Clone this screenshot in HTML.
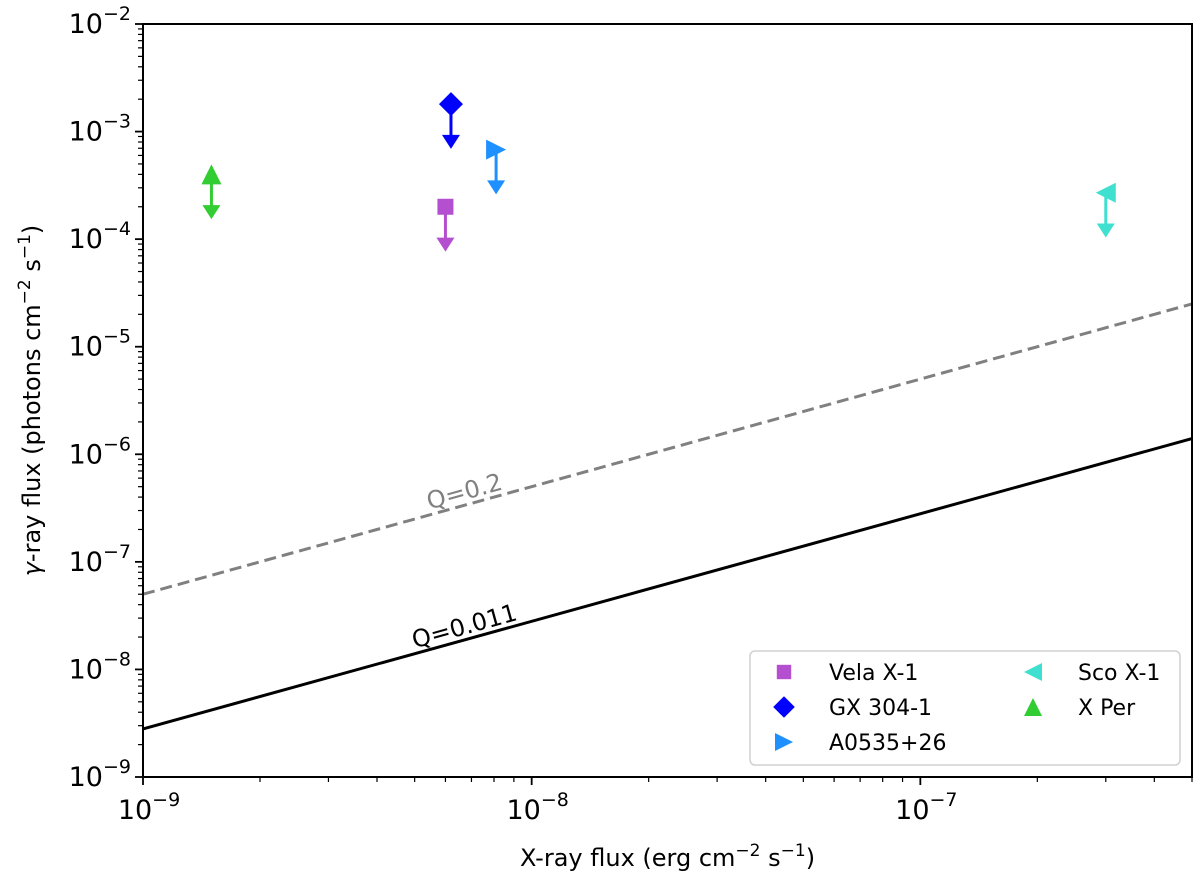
<!DOCTYPE html>
<html><head><meta charset="utf-8"><style>
html,body{margin:0;padding:0;background:#fff;}
svg{display:block;font-family:"DejaVu Sans","Liberation Sans",sans-serif;}
</style></head><body>
<svg id="chart" width="1200" height="880" viewBox="0 0 1200 880"></svg>
<script>
const names=["Vela X-1","GX 304-1","A0535+26","Sco X-1","X Per"];
const xFlux=[6.0e-9,6.2e-9,8.1e-9,3.0e-7,1.5e-9];
const gFlux=[2.0e-4,1.8e-3,6.8e-4,2.7e-4,4.0e-4];
const colors=["#b44fcf","#0000ff","#1e90ff","#40e0d0","#32cd32"];
const markers=["square","diamond","right","left","up"];
const qNames=["Q=0.2","Q=0.011"];
const qAt1e9=[5e-8,2.8e-9];
const xTicks=[-9,-8,-7];
const yTicks=[-9,-8,-7,-6,-5,-4,-3,-2];
const L=143,R=1192,T=24,B=777;
const xmin=-9,xmax=Math.log10(5e-7),ymin=-9,ymax=-2;
const X=v=>L+(Math.log10(v)-xmin)/(xmax-xmin)*(R-L);
const Y=v=>B-(Math.log10(v)-ymin)/(ymax-ymin)*(B-T);
const svg=document.getElementById('chart');
const NS="http://www.w3.org/2000/svg";
function el(t,a,p){const e=document.createElementNS(NS,t);for(const k in a)e.setAttribute(k,a[k]);(p||svg).appendChild(e);return e;}
const qStyles=[{s:"#808080",d:"12,6"},{s:"#000",d:""}];
qNames.forEach((n,i)=>{
 const x1=1e-9,x2=5e-7;
 const ln=el('line',{x1:X(x1),y1:Y(qAt1e9[i]),x2:X(x2),y2:Y(qAt1e9[i]*x2/x1),stroke:qStyles[i].s,'stroke-width':3,'stroke-dasharray':qStyles[i].d});
 
 
 const xl=6.8e-9, yv=qAt1e9[i]*xl/1e-9*1.12;
 const ang=-Math.atan((Y(1)-Y(10))/(X(10)-X(1)))*180/Math.PI;
 const t=el('text',{x:X(xl),y:Y(yv),'font-size':24,fill:qStyles[i].s,'text-anchor':'middle',transform:`rotate(${ang} ${X(xl)} ${Y(yv)})`});
 t.textContent=n;
 
 
});
function marker(type,cx,cy,s,c,parent){
 let e;
 if(type==="square")e=el('rect',{x:cx-s*0.8,y:cy-s*0.8,width:s*1.6,height:s*1.6,fill:c},parent);
 else if(type==="diamond")e=el('polygon',{points:`${cx},${cy-s*1.2} ${cx+s*1.2},${cy} ${cx},${cy+s*1.2} ${cx-s*1.2},${cy}`,fill:c},parent);
 else if(type==="right")e=el('polygon',{points:`${cx-s},${cy-s} ${cx+s},${cy} ${cx-s},${cy+s}`,fill:c},parent);
 else if(type==="left")e=el('polygon',{points:`${cx+s},${cy-s} ${cx-s},${cy} ${cx+s},${cy+s}`,fill:c},parent);
 else e=el('polygon',{points:`${cx-s},${cy+s} ${cx},${cy-s} ${cx+s},${cy+s}`,fill:c},parent);
 return e;
}
names.forEach((n,i)=>{
 const g=el('g',{});
 
 
 const cx=X(xFlux[i]),cy=Y(gFlux[i]),ye=Y(gFlux[i]*0.4);
 el('line',{x1:cx,y1:cy,x2:cx,y2:ye-8,stroke:colors[i],'stroke-width':3},g);
 el('polygon',{points:`${cx-9},${ye-12} ${cx+9},${ye-12} ${cx},${ye+2}`,fill:colors[i]},g);
 marker(markers[i],cx,cy,10,colors[i],g);
});
const ax=el('g',{});


el('rect',{x:L,y:T,width:R-L,height:B-T,fill:'none',stroke:'#000','stroke-width':2},ax);
for(let d=-9;d<-6;d++)for(let m=1;m<10;m++){const v=m*Math.pow(10,d);if(v>5e-7)break;const x=X(v);el('line',{x1:x,y1:B,x2:x,y2:B+(m===1?8:5),stroke:'#000','stroke-width':m===1?1.8:1.2},ax);}
for(let d=-9;d<-2;d++)for(let m=1;m<10;m++){const y=Y(m*Math.pow(10,d));el('line',{x1:L,y1:y,x2:L-(m===1?8:5),y2:y,stroke:'#000','stroke-width':m===1?1.8:1.2},ax);}
el('line',{x1:L,y1:T,x2:L-8,y2:T,stroke:'#000','stroke-width':1.8},ax);
xTicks.forEach(d=>{const t=el('text',{x:X(Math.pow(10,d))+6,y:B+42,'font-size':27,'text-anchor':'middle'},ax);t.innerHTML=`10<tspan dy="-13" font-size="19">−${-d}</tspan>`;});
yTicks.forEach(d=>{const t=el('text',{x:L-12,y:Y(Math.pow(10,d))+9,'font-size':27,'text-anchor':'end'},ax);t.innerHTML=`10<tspan dy="-13" font-size="19">−${-d}</tspan>`;});
const xl=el('text',{x:(L+R)/2,y:866,'font-size':24,'text-anchor':'middle'});
xl.innerHTML='X-ray flux (erg cm<tspan dy="-10" font-size="17">−2</tspan><tspan dy="10"> s</tspan><tspan dy="-10" font-size="17">−1</tspan><tspan dy="10">)</tspan>';


const yl=el('text',{x:0,y:0,'font-size':24,'text-anchor':'middle',transform:`translate(40 ${(T+B)/2}) rotate(-90)`});
yl.innerHTML='<tspan font-style="italic">γ</tspan>-ray flux (photons cm<tspan dy="-10" font-size="17">−2</tspan><tspan dy="10"> s</tspan><tspan dy="-10" font-size="17">−1</tspan><tspan dy="10">)</tspan>';


const lg=el('g',{});


el('rect',{x:750,y:651,width:430,height:114,rx:5,fill:'#fff',stroke:'#d0d0d0','stroke-width':1.5},lg);
names.forEach((n,i)=>{
 const col=i<3?0:1,row=i<3?i:i-3;
 const mx=col?1033:784,ty=672+row*35;
 const e=el('g',{},lg);
 
 
 marker(markers[i],mx,ty,9,colors[i],e);
 const t=el('text',{x:mx+45,y:ty+8,'font-size':22},e);t.textContent=n;
});
</script>
</body></html>
